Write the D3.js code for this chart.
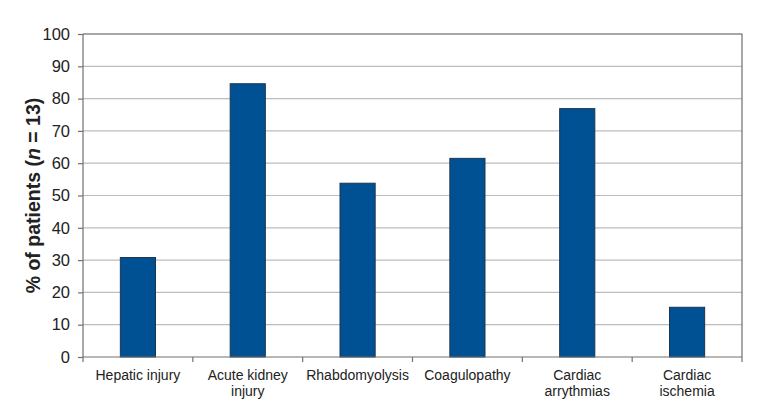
<!DOCTYPE html>
<html>
<head>
<meta charset="utf-8">
<script src="https://cdn.jsdelivr.net/npm/d3@7"></script>
<style>
  body { margin: 0; background: #fff; }
  text { font-family: "Liberation Sans", Arial, sans-serif; fill: #222; }
</style>
</head>
<body>
<div id="chart"></div>
<script>
// --------------------------------------
//  Data
// --------------------------------------

const categories = [
  ["Hepatic injury"],
  ["Acute kidney", "injury"],
  ["Rhabdomyolysis"],
  ["Coagulopathy"],
  ["Cardiac", "arrythmias"],
  ["Cardiac", "ischemia"]
];
const values = [30.8, 84.6, 53.8, 61.5, 76.9, 15.4];
const yTicks = [0, 10, 20, 30, 40, 50, 60, 70, 80, 90, 100];

// --------------------------------------
//  Canvas
// --------------------------------------

const width = 771;
const height = 417;
const margin = { top: 34, right: 29, bottom: 60, left: 83 };
const innerwidth = width - margin.left - margin.right;
const innerheight = height - margin.top - margin.bottom;

const svg = d3
  .select("#chart")
  .append("svg")
  .attr("width", width)
  .attr("height", height);

const innerChart = svg
  .append("g")
  .attr("transform", `translate(${margin.left}, ${margin.top})`);

// --------------------------------------
//  Scales
// --------------------------------------

const idx = d3.range(categories.length);
const x = d3.scaleBand(idx, [0, innerwidth]);
const y = d3.scaleLinear([0, 100], [innerheight, 0]);
const barW = x.bandwidth() * 0.32;

// gridlines
innerChart
  .selectAll("line.grid")
  .data(yTicks.filter(d => d > 0))
  .join("line")
  .attr("class", "grid")
  .attr("x1", 0)
  .attr("x2", innerwidth)
  .attr("y1", d => y(d))
  .attr("y2", d => y(d))
  .attr("stroke", "#bdbdbd")
  .attr("stroke-width", 1.2);

// right + top border
innerChart
  .append("path")
  .attr("d", `M0,${y(100)}H${innerwidth}V${innerheight}`)
  .attr("fill", "none")
  .attr("stroke", "#707070")
  .attr("stroke-width", 1.2);

// --------------------------------------
//  Bars
// --------------------------------------

innerChart
  .selectAll("rect.bar")
  .data(values)
  .join("rect")
  .attr("class", "bar")
  .attr("x", (d, i) => x(i) + x.bandwidth() / 2 - barW / 2)
  .attr("y", d => y(d))
  .attr("width", barW)
  .attr("height", d => innerheight - y(d))
  .attr("fill", "#005193")
  .attr("stroke", "#1d3550")
  .attr("stroke-width", 1);

// --------------------------------------
//  Axes
// --------------------------------------

const yAxis = innerChart
  .append("g")
  .call(d3.axisLeft(y).tickValues(yTicks).tickSize(5).tickPadding(8));
yAxis.selectAll("line, path").attr("stroke", "#707070").attr("stroke-width", 1.2);
yAxis.select(".domain").attr("d", `M0,${innerheight}V0`);
yAxis.selectAll("text").style("font-size", "16.5px").attr("fill", "#222");

const xAxis = innerChart
  .append("g")
  .attr("transform", `translate(0,${innerheight})`);
xAxis
  .append("line")
  .attr("x1", 0)
  .attr("x2", innerwidth)
  .attr("stroke", "#707070")
  .attr("stroke-width", 1.2);
xAxis
  .selectAll("line.tick")
  .data(d3.range(categories.length + 1))
  .join("line")
  .attr("class", "tick")
  .attr("x1", d => d * x.step())
  .attr("x2", d => d * x.step())
  .attr("y1", 0)
  .attr("y2", 5)
  .attr("stroke", "#707070")
  .attr("stroke-width", 1.2);

xAxis
  .selectAll("text.label")
  .data(categories)
  .join("text")
  .attr("class", "label")
  .attr("text-anchor", "middle")
  .attr("x", (d, i) => x(i) + x.bandwidth() / 2)
  .attr("y", 23)
  .style("font-size", "14px")
  .selectAll("tspan")
  .data(d => d)
  .join("tspan")
  .attr("x", function() { return d3.select(this.parentNode).attr("x"); })
  .attr("dy", (d, i) => i === 0 ? 0 : 16)
  .text(d => d);

// y title
const title = svg
  .append("text")
  .attr("transform", `translate(40, ${margin.top + innerheight / 2}) rotate(-90)`)
  .attr("text-anchor", "middle")
  .style("font-size", "19.5px")
  .style("font-weight", "bold");
title.append("tspan").text("% of patients (");
title.append("tspan").style("font-style", "italic").text("n");
title.append("tspan").text(" = 13)");
</script>
</body>
</html>
